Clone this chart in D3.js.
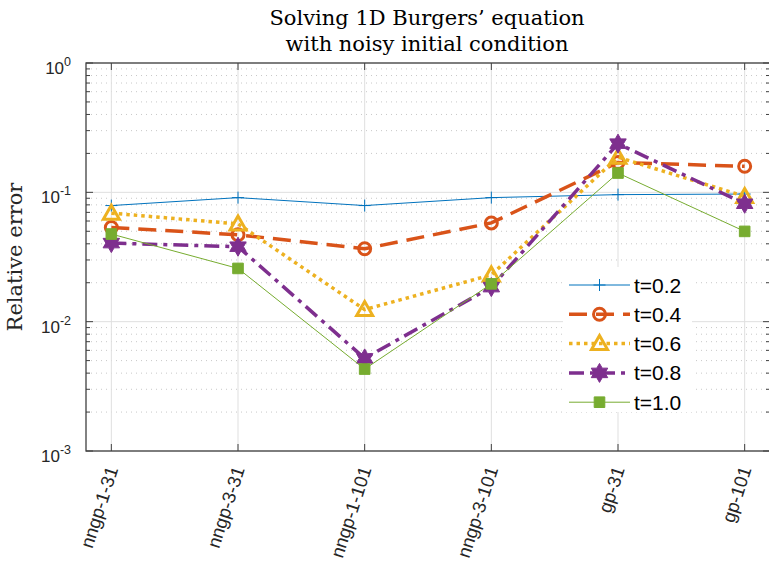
<!DOCTYPE html>
<html>
<head>
<meta charset="utf-8">
<script src="https://cdn.jsdelivr.net/npm/d3@7"></script>
<style>
body { margin: 0; background: #fff; }
</style>
</head>
<body>
<svg id="chart" width="769" height="563"></svg>
<script>
// data
var categories = ["nngp-1-31", "nngp-3-31", "nngp-1-101", "nngp-3-101", "gp-31", "gp-101"];
var seriesNames = ["t=0.2", "t=0.4", "t=0.6", "t=0.8", "t=1.0"];
var t02 = [0.079, 0.091, 0.079, 0.091, 0.096, 0.097];
var t04 = [0.0535, 0.047, 0.0366, 0.058, 0.17, 0.159];
var t06 = [0.069, 0.057, 0.0124, 0.023, 0.187, 0.093];
var t08 = [0.0405, 0.038, 0.0052, 0.0185, 0.238, 0.0816];
var t10 = [0.0476, 0.0258, 0.0043, 0.0196, 0.141, 0.0499];
var yDecades = [1e-3, 1e-2, 1e-1, 1];
var yDecadeExps = ["-3", "-2", "-1", "0"];
var titleLines = ["Solving 1D Burgers\u2019 equation", "with noisy initial condition"];
var yLabel = "Relative error";

var seriesValues = [t02, t04, t06, t08, t10];

// MATLAB default colour order and line specs
var styles = [
    { color: "#0072BD", width: 1, dash: null, marker: "plus" },
    { color: "#D95319", width: 3.5, dash: "18,9", marker: "circle" },
    { color: "#EDB120", width: 3.5, dash: "3.5,4", marker: "triangle" },
    { color: "#7E2F8E", width: 3.5, dash: "15,6,4,6", marker: "hexagram" },
    { color: "#77AC30", width: 1, dash: null, marker: "square" }
];

var margin = { left: 86, top: 63, right: 770, bottom: 451 };

var svg = d3.select("#chart");

var x = d3.scaleLinear()
    .domain([0.8, categories.length + 0.2])
    .range([margin.left, margin.right]);

var y = d3.scaleLog()
    .domain([1e-3, 1])
    .range([margin.bottom, margin.top]);

var minorTicks = y.ticks().filter(function (v) {
    return yDecades.indexOf(v) < 0;
});

// GRID
var grid = svg.append("g");
grid.selectAll("line.minor")
    .data(minorTicks)
    .enter().append("line")
    .attr("class", "minor")
    .attr("x1", margin.left).attr("x2", margin.right)
    .attr("y1", function (d) { return y(d); })
    .attr("y2", function (d) { return y(d); })
    .attr("stroke", "#c8c8c8")
    .attr("stroke-width", 1)
    .attr("stroke-dasharray", "1,4");
grid.selectAll("line.majorY")
    .data(yDecades)
    .enter().append("line")
    .attr("class", "majorY")
    .attr("x1", margin.left).attr("x2", margin.right)
    .attr("y1", function (d) { return y(d); })
    .attr("y2", function (d) { return y(d); })
    .attr("stroke", "#dfdfdf")
    .attr("stroke-width", 1);
grid.selectAll("line.majorX")
    .data(categories)
    .enter().append("line")
    .attr("class", "majorX")
    .attr("x1", function (d, i) { return x(i + 1); })
    .attr("x2", function (d, i) { return x(i + 1); })
    .attr("y1", margin.top).attr("y2", margin.bottom)
    .attr("stroke", "#dfdfdf")
    .attr("stroke-width", 1);

// MARKERS
function markerPath(kind) {
    var p = d3.path();
    if (kind == "plus") {
        p.moveTo(-6, 0); p.lineTo(6, 0);
        p.moveTo(0, -6); p.lineTo(0, 6);
    }
    else if (kind == "circle") {
        p.arc(0, 0, 6, 0, 2 * Math.PI);
        p.closePath();
    }
    else if (kind == "triangle") {
        p.moveTo(0, -8); p.lineTo(8, 6); p.lineTo(-8, 6); p.closePath();
    }
    else if (kind == "hexagram") {
        var R = 9.5, r = R / Math.sqrt(3);
        for (var k = 0; k < 12; k++) {
            var a = -Math.PI / 2 + k * Math.PI / 6;
            var rad = k % 2 == 0 ? R : r;
            if (k == 0) p.moveTo(rad * Math.cos(a), rad * Math.sin(a));
            else p.lineTo(rad * Math.cos(a), rad * Math.sin(a));
        }
        p.closePath();
    }
    else {
        p.rect(-5.3, -5.3, 10.6, 10.6);
    }
    return p.toString();
}

function styleMarker(sel, st) {
    var filled = st.marker == "hexagram" || st.marker == "square";
    sel.attr("d", markerPath(st.marker))
        .attr("fill", filled ? st.color : "none")
        .attr("stroke", st.color)
        .attr("stroke-width", st.marker == "plus" ? 1 : (filled ? 1 : 3))
        .attr("stroke-linejoin", "miter");
}

// SERIES
var line = d3.line()
    .x(function (d, i) { return x(i + 1); })
    .y(function (d) { return y(d); });

seriesValues.forEach(function (vals, s) {
    var st = styles[s];
    var g = svg.append("g");
    g.append("path")
        .attr("d", line(vals))
        .attr("fill", "none")
        .attr("stroke", st.color)
        .attr("stroke-width", st.width)
        .attr("stroke-dasharray", st.dash);
    g.selectAll("path.mk")
        .data(vals)
        .enter().append("path")
        .attr("class", "mk")
        .attr("transform", function (d, i) {
            return "translate(" + x(i + 1) + "," + y(d) + ")";
        })
        .call(styleMarker, st);
});

// AXES BOX AND TICKS
var axisColor = "#404040";
var box = svg.append("g");
box.append("rect")
    .attr("x", margin.left).attr("y", margin.top)
    .attr("width", margin.right - margin.left)
    .attr("height", margin.bottom - margin.top)
    .attr("fill", "none")
    .attr("stroke", axisColor)
    .attr("stroke-width", 1.3);

var xt = d3.range(1, categories.length + 1);
[margin.bottom, margin.top].forEach(function (yy) {
    box.selectAll(null)
        .data(xt)
        .enter().append("line")
        .attr("x1", function (d) { return x(d); })
        .attr("x2", function (d) { return x(d); })
        .attr("y1", yy)
        .attr("y2", yy == margin.bottom ? yy - 7 : yy + 7)
        .attr("stroke", axisColor)
        .attr("stroke-width", 1);
});
[margin.left, margin.right].forEach(function (xx) {
    var dir = xx == margin.left ? 1 : -1;
    box.selectAll(null)
        .data(y.ticks())
        .enter().append("line")
        .attr("x1", xx)
        .attr("x2", function (d) {
            return xx + dir * (yDecades.indexOf(d) >= 0 ? 7 : 4);
        })
        .attr("y1", function (d) { return y(d); })
        .attr("y2", function (d) { return y(d); })
        .attr("stroke", axisColor)
        .attr("stroke-width", 1);
});

// Y TICK LABELS 10^k
var yLab = svg.append("g")
    .attr("font-family", "'Liberation Sans', Arial, Helvetica, sans-serif")
    .attr("fill", "#262626");
yDecades.forEach(function (v, i) {
    var t = yLab.append("text")
        .attr("x", 71)
        .attr("y", y(v) + 11)
        .attr("text-anchor", "end")
        .attr("font-size", 17);
    t.append("tspan").text("10");
    t.append("tspan")
        .attr("dy", -8)
        .attr("font-size", 12.5)
        .text(yDecadeExps[i]);
});

// X TICK LABELS
svg.append("g")
    .attr("font-family", "'Liberation Sans', Arial, Helvetica, sans-serif")
    .attr("fill", "#262626")
    .selectAll("text")
    .data(categories)
    .enter().append("text")
    .attr("text-anchor", "end")
    .attr("font-size", 18.5)
    .attr("transform", function (d, i) {
        return "translate(" + (x(i + 1) + 7) + "," + 469 + ") rotate(-72)";
    })
    .text(function (d) { return d; });

// TITLE AND Y LABEL
var serif = "'DejaVu Serif', 'Liberation Serif', serif";
svg.append("g")
    .attr("font-family", serif)
    .attr("font-size", 21)
    .attr("fill", "#000")
    .attr("text-anchor", "middle")
    .selectAll("text")
    .data(titleLines)
    .enter().append("text")
    .attr("x", 427)
    .attr("y", function (d, i) { return 25 + i * 26; })
    .text(function (d) { return d; });

svg.append("text")
    .attr("font-family", serif)
    .attr("font-size", 21)
    .attr("fill", "#262626")
    .attr("text-anchor", "middle")
    .attr("transform", "translate(22," + ((margin.top + margin.bottom) / 2) + ") rotate(-90)")
    .text(yLabel);

// LEGEND
var leg = svg.append("g");
leg.append("rect")
    .attr("x", 563).attr("y", 267)
    .attr("width", 129).attr("height", 145)
    .attr("fill", "#fff");
seriesNames.forEach(function (name, i) {
    var st = styles[i];
    var ly = 285 + i * 29.3;
    leg.append("line")
        .attr("x1", 569).attr("x2", 630)
        .attr("y1", ly).attr("y2", ly)
        .attr("stroke", st.color)
        .attr("stroke-width", st.width)
        .attr("stroke-dasharray", st.dash);
    leg.append("path")
        .attr("transform", "translate(599.5," + ly + ")")
        .call(styleMarker, st);
    leg.append("text")
        .attr("x", 634)
        .attr("y", ly + 7.5)
        .attr("font-family", "'Liberation Sans', Arial, Helvetica, sans-serif")
        .attr("font-size", 21)
        .attr("fill", "#000")
        .text(name);
});
</script>
</body>
</html>
